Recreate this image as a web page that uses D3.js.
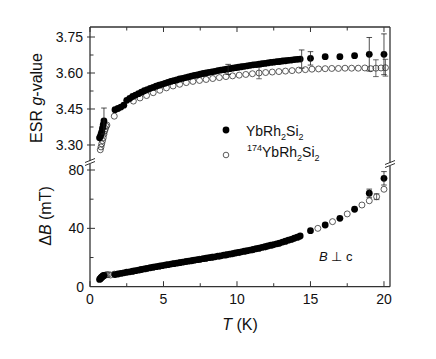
<!DOCTYPE html>
<html><head><meta charset="utf-8">
<script src="https://cdn.jsdelivr.net/npm/d3@7"></script>
<style>
html,body{margin:0;padding:0;background:#fff;}
text{font-family:"Liberation Sans",Arial,sans-serif;fill:#111;}
</style></head>
<body><svg id="c" width="436" height="359"></svg>
<script>
// ---------- data ----------
const tFilled = [0.65,0.7,0.75,0.8,0.85,0.9,0.95,
 1.7,1.9,2.1,2.3,2.5,2.7,2.9,3.1,3.3,3.5,3.7,3.9,4.1,4.3,4.5,4.7,4.9,5.1,5.3,5.5,5.7,5.9,6.1,6.3,6.5,6.7,6.9,7.1,7.3,7.5,7.7,7.9,8.1,8.3,8.5,8.7,8.9,9.1,9.3,9.5,9.7,9.9,10.1,10.3,10.5,10.7,10.9,11.1,11.3,11.5,11.7,11.9,12.1,12.3,12.5,12.7,12.9,13.1,13.3,13.5,13.7,13.9,14.1,14.3,
 15,16,17,18,19,20];
const gFilled = [3.330,3.335,3.345,3.355,3.370,3.385,3.400,
 3.447,3.452,3.458,3.466,3.486,3.494,3.502,3.508,3.514,3.520,3.526,3.531,3.536,3.540,3.545,3.549,3.553,3.557,3.561,3.565,3.568,3.571,3.575,3.578,3.581,3.584,3.587,3.590,3.592,3.595,3.598,3.600,3.603,3.605,3.607,3.610,3.612,3.614,3.616,3.618,3.620,3.622,3.624,3.626,3.628,3.630,3.632,3.634,3.635,3.637,3.639,3.640,3.642,3.644,3.645,3.647,3.648,3.650,3.651,3.653,3.654,3.656,3.657,3.658,
 3.661,3.668,3.668,3.672,3.678,3.678];
const dbFilled = [5.0,5.5,6.0,6.5,7.0,7.5,7.8,
 8.3,8.7,9.1,9.5,9.9,10.2,10.6,11.0,11.4,11.8,12.2,12.6,13.0,13.4,13.7,14.1,14.4,14.8,15.1,15.5,15.8,16.1,16.5,16.8,17.2,17.5,17.8,18.2,18.5,18.8,19.2,19.5,19.9,20.2,20.5,20.9,21.2,21.6,21.9,22.3,22.7,23.1,23.5,23.9,24.3,24.7,25.1,25.5,26.0,26.4,26.9,27.4,27.9,28.4,28.9,29.4,29.9,30.6,31.2,31.9,32.5,33.2,33.9,34.8,
 38.4,42.3,46.9,53.1,64.1,74.3];

const tOpenG = [0.7,0.75,0.8,0.85,0.9,0.95,1.0,1.05,1.1,1.15,1.65,2.95,3.4,3.85,4.3,4.75,5.2,5.65,6.1,6.55,7.0,7.45,7.9,8.35,8.8,9.25,9.7,10.15,10.6,11.05,11.5,11.95,12.4,12.85,13.3,13.75,14.2,14.65,15.1,15.55,16.0,16.45,16.9,17.35,17.8,18.25,18.7,19.1,19.45,19.8,20.1];
const gOpen = [3.280,3.292,3.305,3.318,3.330,3.345,3.358,3.368,3.378,3.383,3.420,3.483,3.496,3.506,3.518,3.528,3.538,3.546,3.553,3.560,3.565,3.569,3.573,3.577,3.581,3.585,3.588,3.591,3.594,3.597,3.600,3.602,3.604,3.606,3.608,3.610,3.612,3.614,3.616,3.617,3.618,3.619,3.619,3.620,3.620,3.620,3.621,3.618,3.620,3.621,3.622];

const tOpenB = [0.75,0.85,0.95,1.05,1.15,1.25,1.4,1.65,2.95,3.4,3.85,4.3,4.75,5.2,5.65,6.1,6.55,7.0,7.45,7.9,8.35,8.8,9.25,9.7,10.15,10.6,11.05,11.5,11.95,12.4,12.85,13.3,13.75,14.2,15.5,16.5,17.5,18.5,19.0,19.5,20.0];
const dbOpen = [6.5,7.0,7.5,8.0,8.2,8.3,8.0,8.6,10.6,11.5,12.4,13.3,14.1,15.0,15.8,16.5,17.3,18.0,18.8,19.5,20.2,20.9,21.7,22.5,23.4,24.3,25.2,26.2,27.3,28.4,29.6,31.0,32.5,34.0,40.0,44.6,49.9,56.0,58.9,61.7,66.8];

// error bars: [T, value, half-width]
const errGFilled = [[0.95,3.400,0.054],[9.4,3.615,0.021],[14.4,3.658,0.038],[15,3.661,0.028],[19,3.678,0.070],[20,3.678,0.085]];
const errGOpen = [[11.5,3.600,0.024],[19.45,3.620,0.035],[20.1,3.622,0.035]];
const errBFilled = [[19,64.1,2.8],[20,74.3,4.6]];
const errBOpen = [[19.5,61.7,2.0]];

const xTicks = [0,5,10,15,20];
const xMinor = [2.5,7.5,12.5,17.5];
const gTicks = [3.30,3.45,3.60,3.75];
const gMinor = [3.375,3.525,3.675];
const bTicks = [0,40,80];
const bMinor = [20,60];

// ---------- layout ----------
const svg = d3.select("#c");
const L = 90, R = 390, T0 = 27, B0 = 286.7;
const breakTop = 161, breakBot = 163;
const x = d3.scaleLinear().domain([0, 20.41]).range([L, R]);
const yG = d3.scaleLinear().domain([3.2333, 3.7917]).range([breakTop, T0]);
const yB = d3.scaleLinear().domain([0, 84.8]).range([B0, breakBot]);

const axisCol = "#333";

// ---------- data marks ----------
function errBars(g, data, ys, col) {
  data.forEach(d => {
    const cx = x(d[0]), y1 = ys(d[1] - d[2]), y2 = ys(d[1] + d[2]);
    g.append("line").attr("x1", cx).attr("x2", cx).attr("y1", y1).attr("y2", y2).attr("stroke", col).attr("stroke-width", 0.8);
    [y1, y2].forEach(yy => g.append("line").attr("x1", cx - 2.8).attr("x2", cx + 2.8).attr("y1", yy).attr("y2", yy).attr("stroke", col).attr("stroke-width", 0.8));
  });
}
const marks = svg.append("g");
errBars(marks, errGOpen, yG, "#444");
errBars(marks, errBOpen, yB, "#444");

marks.selectAll("circle.og").data(tOpenG.map((t,i)=>[t,gOpen[i]])).enter().append("circle")
  .attr("cx", d=>x(d[0])).attr("cy", d=>yG(d[1])).attr("r", 3).attr("fill", "none").attr("stroke", "#333").attr("stroke-width", 0.8);
marks.selectAll("circle.ob").data(tOpenB.map((t,i)=>[t,dbOpen[i]])).enter().append("circle")
  .attr("cx", d=>x(d[0])).attr("cy", d=>yB(d[1])).attr("r", 3).attr("fill", "none").attr("stroke", "#333").attr("stroke-width", 0.8);

marks.selectAll("circle.fg").data(tFilled.map((t,i)=>[t,gFilled[i]])).enter().append("circle")
  .attr("cx", d=>x(d[0])).attr("cy", d=>yG(d[1])).attr("r", 3.4).attr("fill", "#000");
marks.selectAll("circle.fb").data(tFilled.map((t,i)=>[t,dbFilled[i]])).enter().append("circle")
  .attr("cx", d=>x(d[0])).attr("cy", d=>yB(d[1])).attr("r", 3.4).attr("fill", "#000");
errBars(marks, errGFilled, yG, "#222");
errBars(marks, errBFilled, yB, "#222");

// ---------- frame ----------
const fr = svg.append("g").attr("stroke", axisCol).attr("stroke-width", 1.3).attr("fill", "none");
fr.append("line").attr("x1", L).attr("x2", R).attr("y1", T0).attr("y2", T0);
fr.append("line").attr("x1", L).attr("x2", R).attr("y1", B0).attr("y2", B0);
fr.append("line").attr("x1", L).attr("x2", L).attr("y1", T0).attr("y2", breakTop + 1);
fr.append("line").attr("x1", L).attr("x2", L).attr("y1", breakBot + 1).attr("y2", B0);
fr.append("line").attr("x1", R).attr("x2", R).attr("y1", T0).attr("y2", breakTop + 2);
fr.append("line").attr("x1", R).attr("x2", R).attr("y1", breakBot + 3).attr("y2", B0);

// break marks
function brk(cx, cy) {
  const g = svg.append("g");
  g.append("polygon").attr("points", `${cx-5},${cy+1.5} ${cx+5},${cy-2.5} ${cx+5},${cy-0.5} ${cx-5},${cy+3.5}`).attr("fill", "#fff");
  g.append("line").attr("x1", cx-5).attr("y1", cy+1).attr("x2", cx+5).attr("y2", cy-3).attr("stroke", axisCol).attr("stroke-width", 1);
  g.append("line").attr("x1", cx-5).attr("y1", cy+4).attr("x2", cx+5).attr("y2", cy).attr("stroke", axisCol).attr("stroke-width", 1);
}
brk(L, 161.5);
brk(R, 163.5);

// ---------- axes ----------
const tk = svg.append("g").attr("stroke", axisCol).attr("stroke-width", 1);
xTicks.forEach(v => {
  tk.append("line").attr("x1", x(v)).attr("x2", x(v)).attr("y1", B0).attr("y2", B0 - 5.5);
  tk.append("line").attr("x1", x(v)).attr("x2", x(v)).attr("y1", T0).attr("y2", T0 + 5);
});
xMinor.forEach(v => {
  tk.append("line").attr("x1", x(v)).attr("x2", x(v)).attr("y1", B0).attr("y2", B0 - 3.5);
  tk.append("line").attr("x1", x(v)).attr("x2", x(v)).attr("y1", T0).attr("y2", T0 + 3.5);
});
gTicks.forEach(v => tk.append("line").attr("x1", L - 3).attr("x2", L + 5).attr("y1", yG(v)).attr("y2", yG(v)));
gMinor.forEach(v => tk.append("line").attr("x1", L).attr("x2", L + 3.5).attr("y1", yG(v)).attr("y2", yG(v)));
bTicks.filter(v=>v>0).forEach(v => tk.append("line").attr("x1", L - 3).attr("x2", L + 5).attr("y1", yB(v)).attr("y2", yB(v)));
bMinor.forEach(v => tk.append("line").attr("x1", L).attr("x2", L + 3.5).attr("y1", yB(v)).attr("y2", yB(v)));

const lab = svg.append("g").attr("font-size", 14);
xTicks.forEach(v => lab.append("text").attr("x", x(v)).attr("y", 304).attr("text-anchor", "middle").text(v));
gTicks.forEach(v => lab.append("text").attr("x", 83).attr("y", yG(v) + 5).attr("text-anchor", "end").text(v.toFixed(2)));
bTicks.forEach(v => lab.append("text").attr("x", 84).attr("y", yB(v) + 5).attr("text-anchor", "end").text(v));

// axis titles
const xt = svg.append("text").attr("x", 240).attr("y", 330).attr("text-anchor", "middle").attr("font-size", 16);
xt.append("tspan").attr("font-style", "italic").text("T");
xt.append("tspan").text(" (K)");

const yt1 = svg.append("text").attr("transform", "translate(42,98) rotate(-90)").attr("text-anchor", "middle").attr("font-size", 16);
yt1.append("tspan").text("ESR ");
yt1.append("tspan").attr("font-style", "italic").text("g");
yt1.append("tspan").text("-value");

const yt2 = svg.append("text").attr("transform", "translate(50.5,216) rotate(-90)").attr("text-anchor", "middle").attr("font-size", 16);
yt2.append("tspan").text("\u0394");
yt2.append("tspan").attr("font-style", "italic").text("B");
yt2.append("tspan").text(" (mT)");

// legend
const leg = svg.append("g");
leg.append("circle").attr("cx", 226).attr("cy", 130).attr("r", 3.4).attr("fill", "#000");
leg.append("circle").attr("cx", 226).attr("cy", 155).attr("r", 2.8).attr("fill", "none").attr("stroke", "#333").attr("stroke-width", 0.8);
const l1 = leg.append("text").attr("x", 246).attr("y", 136).attr("font-size", 14);
l1.append("tspan").text("YbRh");
l1.append("tspan").attr("font-size", 9).attr("dy", 4).text("2");
l1.append("tspan").attr("dy", -4).text("Si");
l1.append("tspan").attr("font-size", 9).attr("dy", 4).text("2");
const l2 = leg.append("text").attr("x", 247).attr("y", 157).attr("font-size", 14);
l2.append("tspan").attr("font-size", 9).attr("dy", -6).text("174");
l2.append("tspan").attr("dy", 6).text("YbRh");
l2.append("tspan").attr("font-size", 9).attr("dy", 4).text("2");
l2.append("tspan").attr("dy", -4).text("Si");
l2.append("tspan").attr("font-size", 9).attr("dy", 4).text("2");

// annotation
const an = svg.append("text").attr("x", 319).attr("y", 261).attr("font-size", 13);
an.append("tspan").attr("font-style", "italic").text("B");
an.append("tspan").text(" \u22A5 c");
</script></body></html>
